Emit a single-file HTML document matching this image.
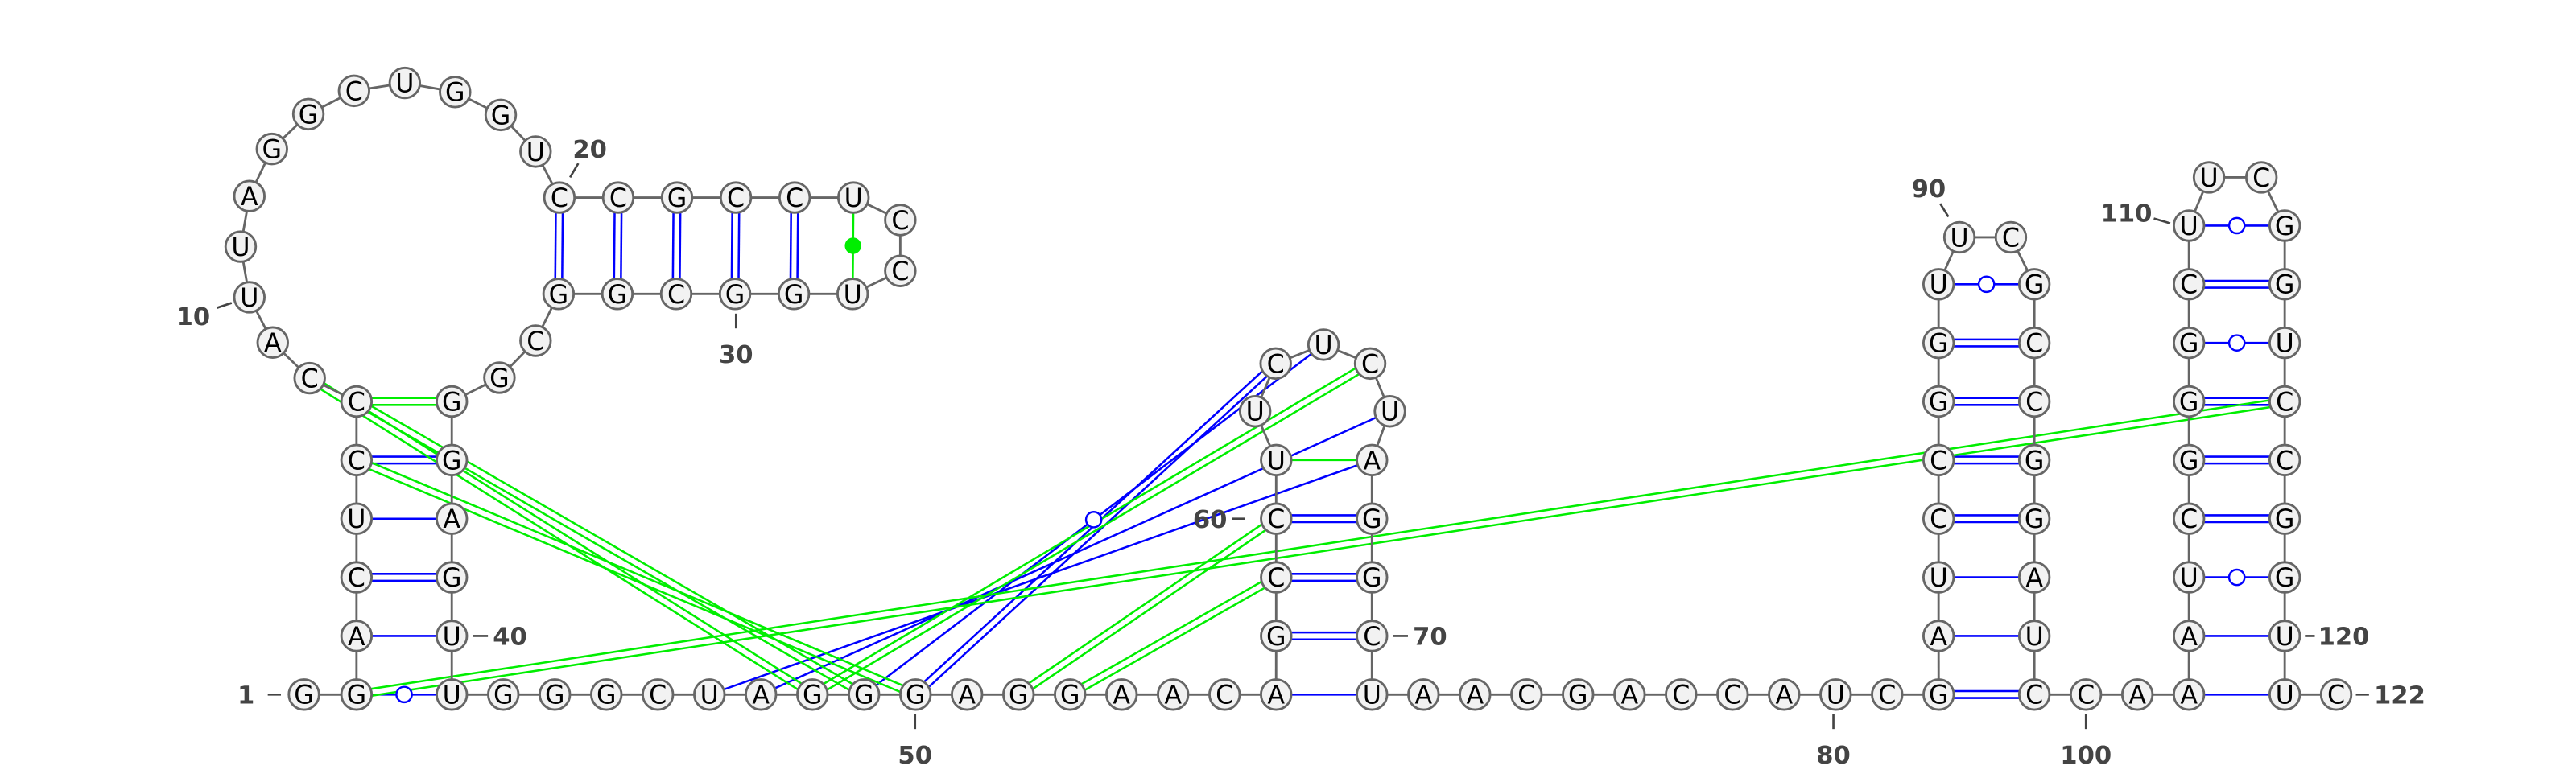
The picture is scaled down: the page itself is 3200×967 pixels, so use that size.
<!DOCTYPE html>
<html><head><meta charset="utf-8"><title>RNA secondary structure</title>
<style>
html,body{margin:0;padding:0;background:#fff;}
svg{display:block;}
.nt text{font-family:"DejaVu Sans","Liberation Sans",sans-serif;font-size:15.5px;fill:#000;}
.lbl{font-family:"DejaVu Sans","Liberation Sans",sans-serif;font-size:15px;font-weight:bold;fill:#444;}
</style></head>
<body>
<svg id="chart" width="3200" height="967" viewBox="0 0 1568 473.8" xmlns="http://www.w3.org/2000/svg">
<g id="pairs"></g>
<g id="backbone"></g>
<g id="marks"></g>
<g id="nodes"></g>
<g id="labels"></g>
</svg>
<script>
const sequence = "GGACUCCCAU"+"UAGGCUGGUC"+"CGCCUCCUGG"+"CGGCGGGAGU"+"UGGGCUAGGG"+"AGGAACAGCC"+"UUCUCUAGGC"+"UAACGACCAU"+"CGAUCCGGUU"+"CGCCGGAUCC"+"AAAUCGGGCU"+"UCGGUCCGGU"+"UC";
// pair lists: [i, j] (1-based)
const pairsBlueSingle = [[3,40],[5,38],[57,71],[83,98],[84,97],[102,121],[103,120],[46,67],[47,66]];
const pairsBlueDouble = [[4,39],[6,37],[20,33],[21,32],[22,31],[23,30],[24,29],[58,70],[59,69],[60,68],[82,99],[85,96],[86,95],[87,94],[88,93],[105,118],[106,117],[107,116],[109,114],[50,63]];
const pairsWobble = [[2,41],[89,92],[104,119],[108,115],[110,113],[49,64]];
const pairsGreenDouble = [[7,36],[2,116],[8,48],[7,49],[6,50],[48,65],[52,60],[53,59]];
const pairsGreenSingle = [[61,67]];
const pairsGreenDot = [[25,28]];
const tickLabels = [1,10,20,30,40,50,60,70,80,90,100,110,120,122];

const NS="http://www.w3.org/2000/svg";
const loop1 = {8:[188.5,230.3],9:[166,208.6],10:[151.8,181],11:[146.5,150.2],12:[151.8,119.4],13:[165.5,90.7],14:[187.7,69.5],15:[215.5,55.3],16:[246.4,50.5],17:[277,56],18:[304.8,70],19:[326,92.3],26:[548,134],27:[548,165],34:[326,207.5],35:[304,230],62:[764,250.5],63:[776.5,221.4],64:[805.6,209.9],65:[834,221.4],66:[846,250.5],90:[1192.7,144.5],91:[1224,144.5],111:[1344.6,108],112:[1376.5,108]};
const RS=35.7, BS=31.36, BY=423;
function pos(i){
  if(loop1[i]) return loop1[i];
  if(i===1) return [185,BY];
  if(i<=7) return [217,BY-(i-2)*RS];
  if(i<=25) return [340.5+(i-20)*35.8,120.3];
  if(i<=33) return [519-(i-28)*35.8,179];
  if(i<=41) return [275,244.5+(i-36)*RS];
  if(i<=57) return [275+(i-41)*BS,BY];
  if(i<=61) return [776.8,BY-(i-57)*RS];
  if(i<=71) return [835.1,280.2+(i-67)*RS];
  if(i<=82) return [835.1+(i-71)*BS,BY];
  if(i<=89) return [1180,BY-(i-82)*RS];
  if(i<=99) return [1238.3,173.1+(i-92)*RS];
  if(i<=102) return [1238.3+(i-99)*BS,BY];
  if(i<=110) return [1332.4,BY-(i-102)*RS];
  if(i<=121) return [1390.7,137.4+(i-113)*RS];
  return [1422,BY];
}
function line(g,a,b,color,w){
  const l=document.createElementNS(NS,'line');
  l.setAttribute('x1',a[0]);l.setAttribute('y1',a[1]);l.setAttribute('x2',b[0]);l.setAttribute('y2',b[1]);
  l.setAttribute('stroke',color);l.setAttribute('stroke-width',w);
  g.appendChild(l);return l;
}
const gP=document.getElementById('pairs'), gB=document.getElementById('backbone'), gM=document.getElementById('marks'), gN=document.getElementById('nodes'), gL=document.getElementById('labels');
function drawPair(p,color,dbl){
  const a=pos(p[0]), b=pos(p[1]);
  const g=document.createElementNS(NS,'g');
  
  
  if(dbl){
    const dx=b[0]-a[0], dy=b[1]-a[1], L=Math.hypot(dx,dy), ox=-dy/L*2.1, oy=dx/L*2.1;
    line(g,[a[0]+ox,a[1]+oy],[b[0]+ox,b[1]+oy],color,1.25);
    line(g,[a[0]-ox,a[1]-oy],[b[0]-ox,b[1]-oy],color,1.25);
  } else line(g,a,b,color,1.25);
  gP.appendChild(g);
}
pairsBlueSingle.forEach(p=>drawPair(p,'#0000ff',false));
pairsBlueDouble.forEach(p=>drawPair(p,'#0000ff',true));
pairsWobble.forEach(p=>drawPair(p,'#0000ff',false));
pairsGreenDouble.forEach(p=>drawPair(p,'#00ee00',true));
pairsGreenSingle.forEach(p=>drawPair(p,'#00ee00',false));
pairsGreenDot.forEach(p=>drawPair(p,'#00ee00',false));
pairsWobble.forEach(p=>{
  const a=pos(p[0]), b=pos(p[1]);
  const c=document.createElementNS(NS,'circle');
  
  
  c.setAttribute('cx',(a[0]+b[0])/2);c.setAttribute('cy',(a[1]+b[1])/2);c.setAttribute('r',4.7);
  c.setAttribute('fill','#fff');c.setAttribute('stroke','#0000ff');c.setAttribute('stroke-width',1.2);
  gM.appendChild(c);
});
pairsGreenDot.forEach(p=>{
  const a=pos(p[0]), b=pos(p[1]);
  const c=document.createElementNS(NS,'circle');
  
  
  c.setAttribute('cx',(a[0]+b[0])/2);c.setAttribute('cy',(a[1]+b[1])/2);c.setAttribute('r',5);
  c.setAttribute('fill','#00ee00');
  gM.appendChild(c);
});
for(let i=1;i<sequence.length;i++){
  const l=line(gB,pos(i),pos(i+1),'#666',1.4);
  
  
}
for(let i=1;i<=sequence.length;i++){
  const p=pos(i);
  const g=document.createElementNS(NS,'g');
  g.setAttribute('class','nt');
  
  
  const c=document.createElementNS(NS,'circle');
  c.setAttribute('cx',p[0]);c.setAttribute('cy',p[1]);c.setAttribute('r',9.2);
  c.setAttribute('fill','#f2f2f2');c.setAttribute('stroke','#666');c.setAttribute('stroke-width',1.4);
  g.appendChild(c);
  const t=document.createElementNS(NS,'text');
  t.setAttribute('x',p[0]);t.setAttribute('y',p[1]+5.6);t.setAttribute('text-anchor','middle');
  t.textContent=sequence[i-1];
  g.appendChild(t);
  gN.appendChild(g);
}
const labelGeom = {
  1:[[163,423],[171,423],[155,428.5],'end'],
  10:[[141,184.5],[132,187.5],[128,198],'end'],
  20:[[347,108],[352,99.5],[359,96],'middle'],
  30:[[448,191],[448,200],[448,221],'middle'],
  40:[[288,387.3],[297,387.3],[300,392.8],'start'],
  50:[[557,435],[557,444],[557,465],'middle'],
  60:[[750,315.9],[758,315.9],[747,321.4],'end'],
  70:[[848,387.3],[857,387.3],[860,392.8],'start'],
  80:[[1116,435],[1116,444],[1116,465],'middle'],
  90:[[1181,124],[1186,132],[1174,120],'middle'],
  100:[[1269.7,435],[1269.7,444],[1269.7,465],'middle'],
  110:[[1311,133],[1321,136],[1310,135],'end'],
  120:[[1403,387.3],[1409,387.3],[1411,392.8],'start'],
  122:[[1434,423],[1442,423],[1445,428.5],'start']
};
tickLabels.forEach(n=>{
  const gm=labelGeom[n];
  const g=document.createElementNS(NS,'g');
  
  
  line(g,gm[0],gm[1],'#444',1.3);
  const t=document.createElementNS(NS,'text');
  t.setAttribute('class','lbl');
  t.setAttribute('x',gm[2][0]);t.setAttribute('y',gm[2][1]);t.setAttribute('text-anchor',gm[3]);
  t.textContent=n;
  g.appendChild(t);
  gL.appendChild(g);
});
</script>
</body></html>
